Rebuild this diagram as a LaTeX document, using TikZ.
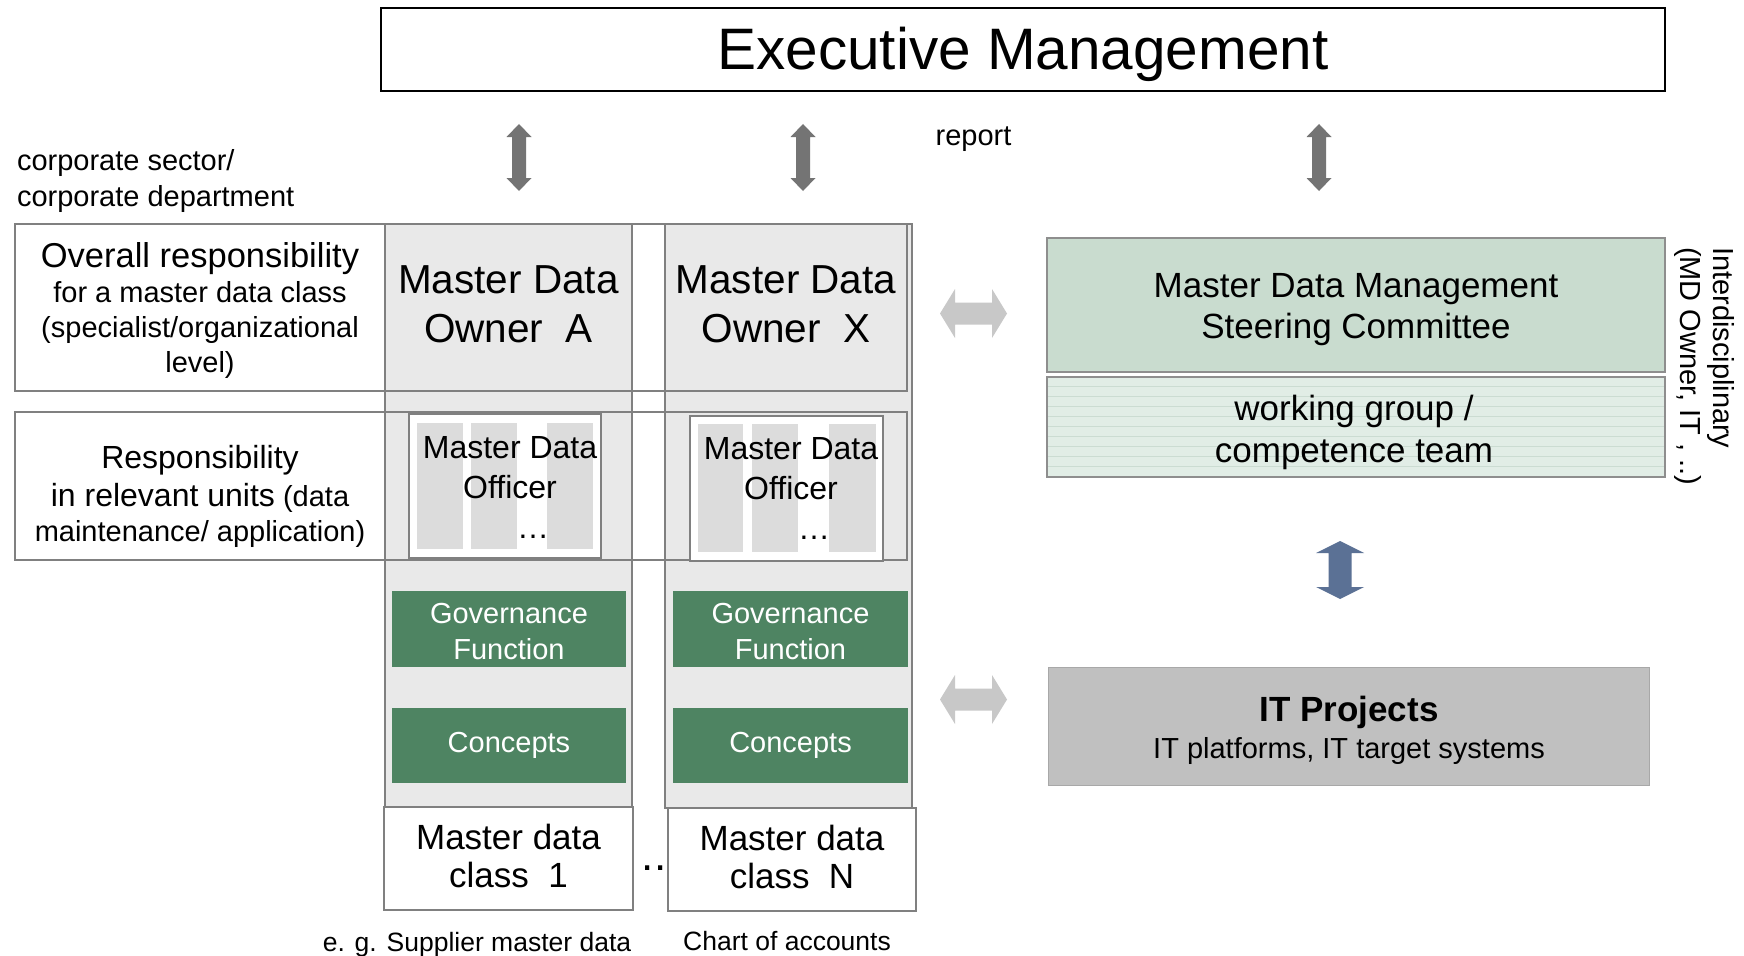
\documentclass[tikz,border=0pt]{standalone}
\usepackage{fontspec}
\setmainfont{Liberation Sans}
\usetikzlibrary{fit}

\definecolor{edgegrey}{HTML}{808080}
\definecolor{colfill}{HTML}{E9E9E9}
\definecolor{barfill}{HTML}{DCDCDC}
\definecolor{govgreen}{HTML}{4E8462}
\definecolor{steerfill}{HTML}{C9DCCF}
\definecolor{steeredge}{HTML}{8E8E8E}
\definecolor{workfill}{HTML}{E1EDE6}
\definecolor{workline}{HTML}{CBDCD2}
\definecolor{itfill}{HTML}{C0C0C0}
\definecolor{itedge}{HTML}{A8A8A8}
\definecolor{darkarrow}{HTML}{747474}
\definecolor{lightarrow}{HTML}{C8C8C8}
\definecolor{bluearrow}{HTML}{5B7195}

% font size helper: size and baseline skip in pt
\newcommand{\fsz}[2]{\fontsize{#1pt}{#2pt}\selectfont}

% vertical block arrow with two heads: x, y top, y bottom, shaft half width, head half width, head length, colour
\newcommand{\vdblarrow}[7]{%
  \fill[#7] (#1,#2) -- ({#1+#5},{#2+#6}) -- ({#1+#4},{#2+#6}) -- ({#1+#4},{#3-#6})
    -- ({#1+#5},{#3-#6}) -- (#1,#3) -- ({#1-#5},{#3-#6}) -- ({#1-#4},{#3-#6})
    -- ({#1-#4},{#2+#6}) -- ({#1-#5},{#2+#6}) -- cycle;}
% horizontal block arrow with two heads: x left, x right, y centre, shaft half height, head half height, head length, colour
\newcommand{\hdblarrow}[7]{%
  \fill[#7] (#1,#3) -- ({#1+#6},{#3-#5}) -- ({#1+#6},{#3-#4}) -- ({#2-#6},{#3-#4})
    -- ({#2-#6},{#3-#5}) -- (#2,#3) -- ({#2-#6},{#3+#5}) -- ({#2-#6},{#3+#4})
    -- ({#1+#6},{#3+#4}) -- ({#1+#6},{#3+#5}) -- cycle;}

\begin{document}
\begin{tikzpicture}[x=1pt,y=-1pt,
  box/.style={inner sep=0pt, outer sep=0pt},
  frame/.style={box, draw=edgegrey, line width=2pt},
  column/.style={frame, fill=colfill},
  whitebox/.style={frame, fill=white},
  bar/.style={box, fill=barfill},
  green/.style={box, fill=govgreen},
  txt/.style={inner sep=0pt, outer sep=0pt, align=center, text=black},
  wtxt/.style={txt, text=white}
]
\useasboundingbox (0,0) rectangle (1744,955);
\fill[white] (0,0) rectangle (1744,955);

% executive management
\node[box, draw=black, line width=2.2pt, fit={(381,8) (1665,91)}] (exec) {};
\node[txt, anchor=base, font=\fsz{58.5}{62}] (execlabel) at (1023,70) {Executive Management};

% reporting arrows
\vdblarrow{519}{124}{191}{7}{12.5}{13}{darkarrow}
\vdblarrow{803}{124}{191}{7}{12.5}{13}{darkarrow}
\vdblarrow{1319}{124}{191}{7}{12.5}{13}{darkarrow}
\node[txt, anchor=base, font=\fsz{29}{34}] (report) at (973.5,145) {report};

\node[txt, align=left, anchor=north west, font=\fsz{29}{36}] (sector) at (17,149)
  {corporate sector/\\corporate department};

% owner columns
\node[column, fit={(385,224) (632,807)}] (colA) {};
\node[column, fit={(665,224) (912,808)}] (colX) {};

% rows of the responsibility table
\node[frame, fit={(15,224) (907,391)}] (rowone) {};
\node[frame, fit={(15,412) (907,560)}] (rowtwo) {};

\node[txt, anchor=north, font=\fsz{29}{35}] (overall) at (200,242.5)
  {{\fsz{34.5}{35}Overall responsibility}\\for a master data class\\(specialist/organizational\\level)};
\node[txt, anchor=north, font=\fsz{29}{35}] (units) at (200,445)
  {{\fsz{32}{35}Responsibility}\\[3pt]{\fsz{32}{35}in relevant units} (data\\maintenance/ application)};

\node[txt, anchor=north, font=\fsz{40.5}{49}] (ownerA) at (508.5,265.5) {Master Data\\Owner~~A};
\node[txt, anchor=north, font=\fsz{40.5}{49}] (ownerX) at (786,265.5) {Master Data\\Owner~~X};

% master data officers
\node[whitebox, fit={(409,414) (601,558)}] (offA) {};
\node[bar, fit={(417,423) (463,549)}] (offAbar1) {};
\node[bar, fit={(471,423) (517,549)}] (offAbar2) {};
\node[bar, fit={(547,423) (593,549)}] (offAbar3) {};
\node[txt, anchor=north, font=\fsz{32}{40}] (offAlabel) at (510,436.5)
  {Master Data\\Officer\\\hspace*{46pt}\char"2026};

\node[whitebox, fit={(690,416) (883,561)}] (offX) {};
\node[bar, fit={(698,424) (743,552)}] (offXbar1) {};
\node[bar, fit={(752,424) (798,552)}] (offXbar2) {};
\node[bar, fit={(829,424) (876,552)}] (offXbar3) {};
\node[txt, anchor=north, font=\fsz{32}{40}] (offXlabel) at (791,437.5)
  {Master Data\\Officer\\\hspace*{46pt}\char"2026};

% governance and concepts
\node[green, fit={(392,591) (626,667)}] (govA) {};
\node[wtxt, anchor=north, font=\fsz{29}{36}] (govAlabel) at (509,603) {Governance\\Function};
\node[green, fit={(392,708) (626,783)}] (conA) {};
\node[wtxt, anchor=base, font=\fsz{29}{36}] (conAlabel) at (509,752.5) {Concepts};

\node[green, fit={(673,591) (908,667)}] (govX) {};
\node[wtxt, anchor=north, font=\fsz{29}{36}] (govXlabel) at (790.5,603) {Governance\\Function};
\node[green, fit={(673,708) (908,783)}] (conX) {};
\node[wtxt, anchor=base, font=\fsz{29}{36}] (conXlabel) at (790.5,752.5) {Concepts};

% master data classes
\node[whitebox, fit={(384,807) (633,910)}] (classA) {};
\node[txt, anchor=north, font=\fsz{35}{38}] (classAlabel) at (508.5,824.5) {Master data\\class~~1};
\node[whitebox, fit={(668,808) (916,911)}] (classN) {};
\node[txt, anchor=north, font=\fsz{35}{38}] (classNlabel) at (792,825.5) {Master data\\class~~N};
\node[txt, font=\fsz{44}{48}] (between) at (654,868) {..};

\node[txt, anchor=base, font=\fsz{26.5}{30}] (exA) at (477,951) {e. g. Supplier master data};
\node[txt, anchor=base, font=\fsz{26.5}{30}] (exN) at (787,950) {Chart of accounts};

% exchange arrows
\hdblarrow{940}{1007}{313.5}{11}{24.5}{15}{lightarrow}
\hdblarrow{940}{1007}{699.5}{11}{24.5}{15}{lightarrow}

% steering committee and working group
\node[box, fill=steerfill, draw=steeredge, line width=2pt, fit={(1047,238) (1665,372)}] (steer) {};
\node[txt, anchor=north, font=\fsz{35}{41}] (steerlabel) at (1356,273)
  {Master Data Management\\Steering Committee};

\node[box, fill=workfill, fit={(1047,377) (1665,477)}] (work) {};
\foreach \yy in {386,396,...,470}
  \draw[workline, line width=0.8pt] (1048,\yy) -- (1664,\yy);
\node[box, draw=steeredge, line width=2pt, fit={(1047,377) (1665,477)}] (workframe) {};
\node[txt, anchor=north, font=\fsz{35}{42}] (worklabel) at (1354,395.5)
  {working group /\\competence team};

\node[txt, align=left, anchor=north west, rotate=-90, font=\fsz{29}{33}] (interdisc) at (1734,247)
  {Interdisciplinary\\(MD Owner, IT , ..)};

\vdblarrow{1340}{541}{599}{11.5}{24}{12}{bluearrow}

% IT projects
\node[box, fill=itfill, draw=itedge, line width=1pt, fit={(1048,667) (1649,785)}] (itproj) {};
\node[txt, anchor=north, font=\fsz{35}{37}] (itlabel) at (1349,696.5)
  {\bfseries IT Projects\\{\fsz{29}{37}IT platforms, IT target systems}};
\end{tikzpicture}
\end{document}
